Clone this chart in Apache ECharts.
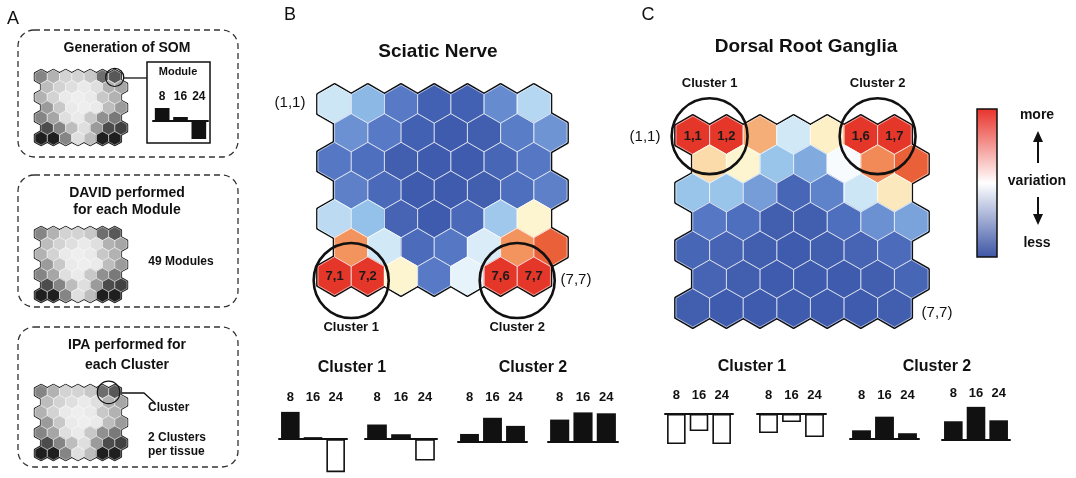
<!DOCTYPE html>
<html><head><meta charset="utf-8">
<script src="https://cdn.jsdelivr.net/npm/echarts@6/dist/echarts.min.js"></script>
<style>html,body{margin:0;padding:0;background:#fff}#chart{width:1076px;height:478px}</style>
</head><body><div id="chart"></div>
<script>
// ---------------- DATA ----------------
// SOM variation levels (0 = less ... 10 = more), rows 1..7, cols 1..7
const SCIATIC_VARIATION = [
  [4.0, 2.8, 1.1, 0.2, 0.2, 1.7, 3.6],
  [1.9, 1.1, 0.2, 0.0, 0.1, 1.2, 2.0],
  [1.0, 0.7, 0.1, 0.0, 0.0, 0.4, 1.0],
  [1.3, 0.5, 0.0, 0.0, 0.1, 0.7, 1.3],
  [3.7, 3.0, 0.3, 0.0, 0.5, 3.2, 6.0],
  [8.0, 4.1, 0.6, 1.0, 4.3, 8.0, 9.0],
  [10, 10, 6.0, 1.1, 4.6, 10, 10]
];
const DRG_VARIATION = [
  [10, 10, 7.6, 4.1, 6.2, 10, 10],
  [6.8, 6.0, 3.1, 2.5, 5.0, 8.2, 9.0],
  [3.1, 3.1, 2.2, 0.4, 1.4, 4.0, 6.4],
  [1.0, 0.7, 0.1, 0.1, 0.7, 1.9, 2.3],
  [0.4, 0.3, 0.1, 0.0, 0.1, 0.3, 0.6],
  [0.3, 0.1, 0.0, 0.0, 0.0, 0.1, 0.4],
  [0.1, 0.0, 0.0, 0.0, 0.0, 0.0, 0.1]
];
// schematic grey SOM of panel A (0 = white ... 10 = black)
const SCHEMATIC_GREY = [
  [5, 3, 1.5, 1.5, 2, 6, 7],
  [2.5, 1.5, 1, 0.5, 1, 3, 3.5],
  [3, 1.5, 0.5, 0.3, 0.5, 2, 3],
  [4, 2, 0.5, 0.3, 0.5, 2.5, 4],
  [5, 3.5, 1, 0.5, 2, 4.5, 5.5],
  [7.5, 5, 2.5, 1, 4, 7.5, 8],
  [9.5, 9.5, 5, 1, 2.5, 9.5, 9.5]
];
const SCIATIC_CELL_LABELS = ['7,1', '7,2', '7,6', '7,7'];
const DRG_CELL_LABELS = ['1,1', '1,2', '1,6', '1,7'];
// clusters: [row, firstCol, lastCol]
const SCIATIC_CLUSTERS = [[7, 1, 2], [7, 6, 7]];
const DRG_CLUSTERS = [[1, 1, 2], [1, 6, 7]];
const SCHEMATIC_MODULE = [[1, 7, 7]];
const SCHEMATIC_CLUSTER = [[1, 6, 7]];
const CLUSTER_NAMES = ['Cluster 1', 'Cluster 2'];

// temporal profiles (hours) – relative bar heights
const TIME_POINTS = ['8', '16', '24'];
const MODULE_PROFILE = [13, 4, -18];
const SCIATIC_C1_A = [28, 2, -34];
const SCIATIC_C1_B = [15, 5, -22];
const SCIATIC_C2_A = [9, 27, 18];
const SCIATIC_C2_B = [25, 33, 32];
const DRG_C1_A = [-30, -17, -30];
const DRG_C1_B = [-19, -8, -23];
const DRG_C2_A = [9, 23, 6];
const DRG_C2_B = [19, 34, 20];

// colour scale for variation 0..10
const VARIATION_COLORS = ['#3f5bad', '#5577c4', '#6f94d4', '#93c1ea', '#cde6f6', '#f8fbfd',
  '#fdf5d0', '#fbd5a0', '#f3945e', '#ea6038', '#e4372a'];

// ---------------- LAYOUT ----------------
const FONT = 'Arial, "Liberation Sans", Helvetica, sans-serif';
const SQ3 = Math.sqrt(3);
const HEX_X = [-0.5, 7];
const HEX_Y = [-1 / SQ3, 3 * SQ3 + 1 / SQ3];
const HEX_PTS = [[0, -1 / SQ3], [0.5, -0.5 / SQ3], [0.5, 0.5 / SQ3], [0, 1 / SQ3], [-0.5, 0.5 / SQ3], [-0.5, -0.5 / SQ3]];

function hexCenter(r, c) { return [(c - 1) + (r % 2 === 0 ? 0.5 : 0), (r - 1) * SQ3 / 2]; }
function hexData(m) {
  const out = [];
  for (let r = 1; r <= m.length; r++) for (let c = 1; c <= m[r - 1].length; c++) {
    const p = hexCenter(r, c); out.push([p[0], p[1], m[r - 1][c - 1], r, c]);
  }
  return out;
}

const grids = [], xAxes = [], yAxes = [], series = [];
const colourSeries = [], greySeries = [];

function hexPoly(api, x, y) { return HEX_PTS.map(d => api.coord([x + d[0], y + d[1]])); }

function addHexMap(o) {
  const gi = grids.length;
  grids.push({ left: o.left, top: o.top, width: o.width, height: o.height });
  xAxes.push({ type: 'value', gridIndex: gi, min: HEX_X[0], max: HEX_X[1], show: false });
  yAxes.push({ type: 'value', gridIndex: gi, min: HEX_Y[0], max: HEX_Y[1], inverse: true, show: false });
  const xi = xAxes.length - 1, yi = yAxes.length - 1;
  const data = hexData(o.values);
  // outer outline layer
  series.push({
    type: 'custom', xAxisIndex: xi, yAxisIndex: yi, data, silent: true, encode: { x: 0, y: 1 },
    renderItem: (p, api) => ({
      type: 'polygon', shape: { points: hexPoly(api, api.value(0), api.value(1)) },
      style: { fill: '#111', stroke: '#111', lineWidth: o.outline, lineJoin: 'round' }
    })
  });
  // filled cells (self-coloured stroke hides the black underneath)
  (o.grey ? greySeries : colourSeries).push(series.length);
  series.push({
    type: 'custom', xAxisIndex: xi, yAxisIndex: yi, data, silent: true, encode: { x: 0, y: 1 },
    dimensions: ['x', 'y', 'v', 'r', 'c'],
    renderItem: (p, api) => {
      const x = api.value(0), y = api.value(1);
      const col = api.visual('color');
      return { type: 'polygon', shape: { points: hexPoly(api, x, y) },
        style: { fill: col, stroke: col, lineWidth: o.cover } };
    }
  });
  // faint inner cell borders + cell labels
  series.push({
    type: 'custom', xAxisIndex: xi, yAxisIndex: yi, data, silent: true, encode: { x: 0, y: 1 },
    renderItem: (p, api) => {
      const x = api.value(0), y = api.value(1);
      const key = api.value(3) + ',' + api.value(4);
      const children = [{ type: 'polygon', shape: { points: hexPoly(api, x, y) },
        style: { fill: 'none', stroke: o.inner, lineWidth: 0.9 } }];
      if (o.labels && o.labels.indexOf(key) >= 0) {
        const c = api.coord([x, y]);
        children.push({ type: 'text', x: c[0], y: c[1] + 1,
          style: { text: key, font: 'bold 13px ' + FONT, fill: '#1a1a1a', align: 'center', verticalAlign: 'middle' } });
      }
      return { type: 'group', children };
    }
  });
  // cluster circles
  if (o.clusters) {
    const cdata = o.clusters.map(cl => {
      const a = hexCenter(cl[0], cl[1]), b = hexCenter(cl[0], cl[2]);
      return [(a[0] + b[0]) / 2, (a[1] + b[1]) / 2 + o.circleDy];
    });
    series.push({
      type: 'custom', xAxisIndex: xi, yAxisIndex: yi, data: cdata, silent: true, encode: { x: 0, y: 1 },
      renderItem: (p, api) => {
        const c = api.coord([api.value(0), api.value(1)]);
        const rad = api.size([o.circleR, 0])[0];
        const children = [{ type: 'circle', shape: { cx: c[0], cy: c[1], r: rad },
          style: { fill: 'none', stroke: '#111', lineWidth: o.circleW } }];
        if (o.clusterLabel) {
          const ty = o.clusterLabel > 0 ? c[1] + rad + o.clusterLabel : c[1] - rad + o.clusterLabel;
          children.push({ type: 'text', x: c[0], y: ty,
            style: { text: CLUSTER_NAMES[p.dataIndex], font: 'bold 13px ' + FONT, fill: '#111', align: 'center', verticalAlign: 'middle' } });
        }
        return { type: 'group', children };
      }
    });
  }
}

function addBars(values, o) {
  const gi = grids.length;
  const top = o.labelY + 10;
  const up = o.baseline - top, down = 40;
  grids.push({ left: o.left, top, width: o.right - o.left, height: up + down });
  xAxes.push({ type: 'category', gridIndex: gi, data: TIME_POINTS, position: 'top',
    axisLine: { show: false, onZero: false }, axisTick: { show: false },
    axisLabel: { margin: 3, fontWeight: 'bold', fontSize: o.fs || 13, color: '#111', fontFamily: FONT } });
  xAxes.push({ type: 'category', gridIndex: gi, data: TIME_POINTS, position: 'bottom',
    axisLine: { show: true, onZero: true, lineStyle: { color: '#111', width: 2 } },
    axisTick: { show: false }, axisLabel: { show: false } });
  yAxes.push({ type: 'value', gridIndex: gi, min: -down, max: up, show: false });
  series.push({
    type: 'bar', xAxisIndex: xAxes.length - 1, yAxisIndex: yAxes.length - 1, clip: false, silent: true,
    barWidth: o.barWidth || '82%',
    data: values.map(v => ({ value: v, itemStyle: (v < 0 && o.hollow)
      ? { color: '#fff', borderColor: '#111', borderWidth: 1.6 } : { color: '#111' } }))
  });
}

// Panel A schematic maps
addHexMap({ left: 35, top: 70, width: 92, height: 75, values: SCHEMATIC_GREY, grey: true, outline: 2.4, cover: 0.8, inner: 'rgba(255,255,255,0.45)',
  clusters: SCHEMATIC_MODULE, circleR: 0.74, circleDy: 0.05, circleW: 1.2 });
addHexMap({ left: 35, top: 227, width: 92, height: 75, values: SCHEMATIC_GREY, grey: true, outline: 2.4, cover: 0.8, inner: 'rgba(255,255,255,0.45)' });
addHexMap({ left: 35, top: 385, width: 92, height: 75, values: SCHEMATIC_GREY, grey: true, outline: 2.4, cover: 0.8, inner: 'rgba(255,255,255,0.45)',
  clusters: SCHEMATIC_CLUSTER, circleR: 0.92, circleDy: 0.05, circleW: 1.2 });
// Panel B / C maps
addHexMap({ left: 318, top: 85, width: 249, height: 210, values: SCIATIC_VARIATION, outline: 3.8, cover: 1.0, inner: 'rgba(255,255,255,0.6)',
  labels: SCIATIC_CELL_LABELS, clusters: SCIATIC_CLUSTERS, circleR: 1.13, circleDy: 0.14, circleW: 2.6, clusterLabel: 9 });
addHexMap({ left: 676, top: 116, width: 252, height: 211, values: DRG_VARIATION, outline: 3.8, cover: 1.0, inner: 'rgba(255,255,255,0.6)',
  labels: DRG_CELL_LABELS, clusters: DRG_CLUSTERS, circleR: 1.13, circleDy: 0.03, circleW: 2.6, clusterLabel: -15 });

// bar profiles
addBars(MODULE_PROFILE, { left: 153, right: 208, baseline: 121, labelY: 96, fs: 12, barWidth: '80%' });
addBars(SCIATIC_C1_A, { left: 279, right: 347, baseline: 440, labelY: 397, hollow: true });
addBars(SCIATIC_C1_B, { left: 365, right: 437, baseline: 440, labelY: 397, hollow: true });
addBars(SCIATIC_C2_A, { left: 458, right: 527, baseline: 446, labelY: 397, hollow: true });
addBars(SCIATIC_C2_B, { left: 548, right: 618, baseline: 446, labelY: 397, hollow: true });
addBars(DRG_C1_A, { left: 665, right: 733, baseline: 414, labelY: 395, hollow: true });
addBars(DRG_C1_B, { left: 757, right: 826, baseline: 414, labelY: 395, hollow: true });
addBars(DRG_C2_A, { left: 850, right: 919, baseline: 440, labelY: 395, hollow: true });
addBars(DRG_C2_B, { left: 942, right: 1010, baseline: 441, labelY: 393, hollow: true });

// ---------------- ANNOTATIONS ----------------
function txt(x, y, text, size, weight, align) {
  return { type: 'text', x, y, silent: true,
    style: { text, font: (weight || 'normal') + ' ' + size + 'px ' + FONT, fill: '#111', align: align || 'center', verticalAlign: 'middle' } };
}
function dashedBox(x, y, w, h) {
  return { type: 'rect', silent: true, shape: { x, y, width: w, height: h, r: 16 },
    style: { fill: 'none', stroke: '#333', lineWidth: 1.3, lineDash: [6, 4] } };
}
function line(pts, w) {
  return { type: 'polyline', silent: true, shape: { points: pts }, style: { fill: 'none', stroke: '#111', lineWidth: w || 1.3 } };
}
const graphic = [
  txt(13, 19, 'A', 18), txt(290, 15, 'B', 18), txt(648, 15, 'C', 18),
  txt(438, 52, 'Sciatic Nerve', 19, 'bold'), txt(806, 47, 'Dorsal Root Ganglia', 19, 'bold'),
  txt(290, 103, '(1,1)', 15), txt(576, 280, '(7,7)', 15),
  txt(645, 137, '(1,1)', 15), txt(937, 313, '(7,7)', 15),
  txt(352, 368, 'Cluster 1', 16, 'bold'), txt(533, 368, 'Cluster 2', 16, 'bold'),
  txt(752, 367, 'Cluster 1', 16, 'bold'), txt(937, 367, 'Cluster 2', 16, 'bold'),
  // legend
  { type: 'rect', silent: true, shape: { x: 977, y: 109, width: 20, height: 148 },
    style: { stroke: '#111', lineWidth: 1.5,
      fill: new echarts.graphic.LinearGradient(0, 0, 0, 1, [
        { offset: 0, color: '#e8322a' }, { offset: 0.5, color: '#ffffff' }, { offset: 1, color: '#3c55a5' }]) } },
  txt(1037, 115, 'more', 14, 'bold'), txt(1037, 181, 'variation', 14, 'bold'), txt(1037, 243, 'less', 14, 'bold'),
  line([[1038, 163], [1038, 140]], 2),
  { type: 'polygon', silent: true, shape: { points: [[1038, 131], [1033, 142], [1043, 142]] }, style: { fill: '#111' } },
  line([[1038, 197], [1038, 216]], 2),
  { type: 'polygon', silent: true, shape: { points: [[1038, 225], [1033, 214], [1043, 214]] }, style: { fill: '#111' } },
  // panel A
  dashedBox(18, 30, 220, 127), dashedBox(18, 175, 220, 132), dashedBox(18, 327, 220, 140),
  txt(127, 48, 'Generation of SOM', 14, 'bold'),
  { type: 'rect', silent: true, shape: { x: 147, y: 62, width: 63, height: 81 }, style: { fill: 'none', stroke: '#111', lineWidth: 1.5 } },
  txt(178, 72, 'Module', 11, 'bold'),
  line([[123, 78], [147, 78]], 1.3),
  txt(127, 193, 'DAVID performed', 14, 'bold'), txt(127, 210, 'for each Module', 14, 'bold'),
  txt(181, 262, '49 Modules', 12, 'bold'),
  txt(127, 345, 'IPA performed for', 14, 'bold'), txt(127, 365, 'each Cluster', 14, 'bold'),
  line([[117, 393], [144, 393], [155, 403]], 1.3),
  txt(148, 408, 'Cluster', 12, 'bold', 'left'),
  txt(148, 438, '2 Clusters', 12, 'bold', 'left'), txt(148, 452, 'per tissue', 12, 'bold', 'left')
];

const chart = echarts.init(document.getElementById('chart'), null, { renderer: 'canvas' });
chart.setOption({
  animation: false,
  backgroundColor: '#ffffff',
  grid: grids, xAxis: xAxes, yAxis: yAxes, series,
  visualMap: [
    { type: 'continuous', show: false, min: 0, max: 10, dimension: 2, seriesIndex: colourSeries, inRange: { color: VARIATION_COLORS } },
    { type: 'continuous', show: false, min: 0, max: 10, dimension: 2, seriesIndex: greySeries, inRange: { color: ['#f5f5f5', '#141414'] } }
  ],
  graphic
});
</script></body></html>
